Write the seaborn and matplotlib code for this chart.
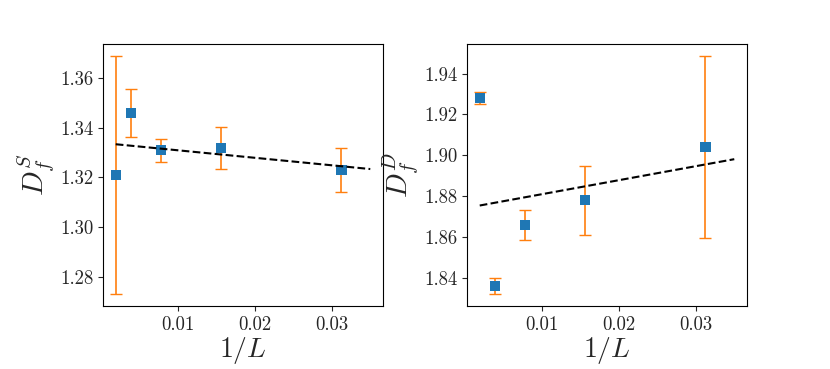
import numpy as np
import pandas as pd
import seaborn as sns
import matplotlib
matplotlib.use("Agg")
import matplotlib.pyplot as plt

# system sizes L = 512, 256, 128, 64, 32
inv_L = [1/512, 1/256, 1/128, 1/64, 1/32]

# static fractal dimension
df_s = [1.321, 1.346, 1.331, 1.332, 1.323]
df_s_err = [0.048, 0.0095, 0.0046, 0.0085, 0.009]
fit_s_x = [1/512, 0.035]
fit_s_y = [1.3334, 1.3234]

# dynamic fractal dimension
df_d = [1.928, 1.836, 1.866, 1.878, 1.904]
df_d_err = [0.003, 0.004, 0.0074, 0.017, 0.0447]
fit_d_x = [1/512, 0.035]
fit_d_y = [1.8754, 1.8981]

sns.set_style("ticks")
plt.rcParams['font.family'] = 'serif'
plt.rcParams['font.serif'] = ['cmr10', 'DejaVu Serif']
plt.rcParams['mathtext.fontset'] = 'cm'
plt.rcParams['axes.formatter.use_mathtext'] = True
plt.rcParams['axes.unicode_minus'] = False

fig, axes = plt.subplots(1, 2, figsize=(8.3, 3.69), dpi=100)
axes[0].set_position([103/830, 1 - 306/369, 280/830, 262/369])
axes[1].set_position([467/830, 1 - 306/369, 280/830, 262/369])

panels = [
    (axes[0], df_s, df_s_err, fit_s_x, fit_s_y, r'$D_f^S$'),
    (axes[1], df_d, df_d_err, fit_d_x, fit_d_y, r'$D_f^D$'),
]

for ax, y, yerr, fx, fy, lab in panels:
    d = pd.DataFrame({'x': inv_L, 'y': y})
    ax.errorbar(inv_L, y, yerr=yerr, fmt='none', ecolor='C1', capsize=4, elinewidth=1.2, zorder=2)
    sns.scatterplot(data=d, x='x', y='y', marker='s', s=55, color='C0', edgecolor='none', ax=ax, zorder=3)
    sns.lineplot(x=fx, y=fy, color='black', linestyle='--', linewidth=1.5, ax=ax, zorder=4)
    ax.set_xlabel(r'$1/L$', fontsize=20, labelpad=1)
    ax.set_ylabel(lab, fontsize=21, labelpad=2)
    ax.tick_params(labelsize=13.5)
    ax.set_xticks([0.01, 0.02, 0.03])
    ax.set_xticklabels(['0.01', '0.02', '0.03'])
    for sp in ax.spines.values():
        sp.set_visible(True)
        sp.set_color('black')

axes[0].set_yticks([1.28, 1.30, 1.32, 1.34, 1.36])
axes[0].set_yticklabels(['1.28', '1.30', '1.32', '1.34', '1.36'])
axes[1].set_yticks([1.84, 1.86, 1.88, 1.90, 1.92, 1.94])
axes[1].set_yticklabels(['1.84', '1.86', '1.88', '1.90', '1.92', '1.94'])

fig.savefig('out.png', dpi=100)
